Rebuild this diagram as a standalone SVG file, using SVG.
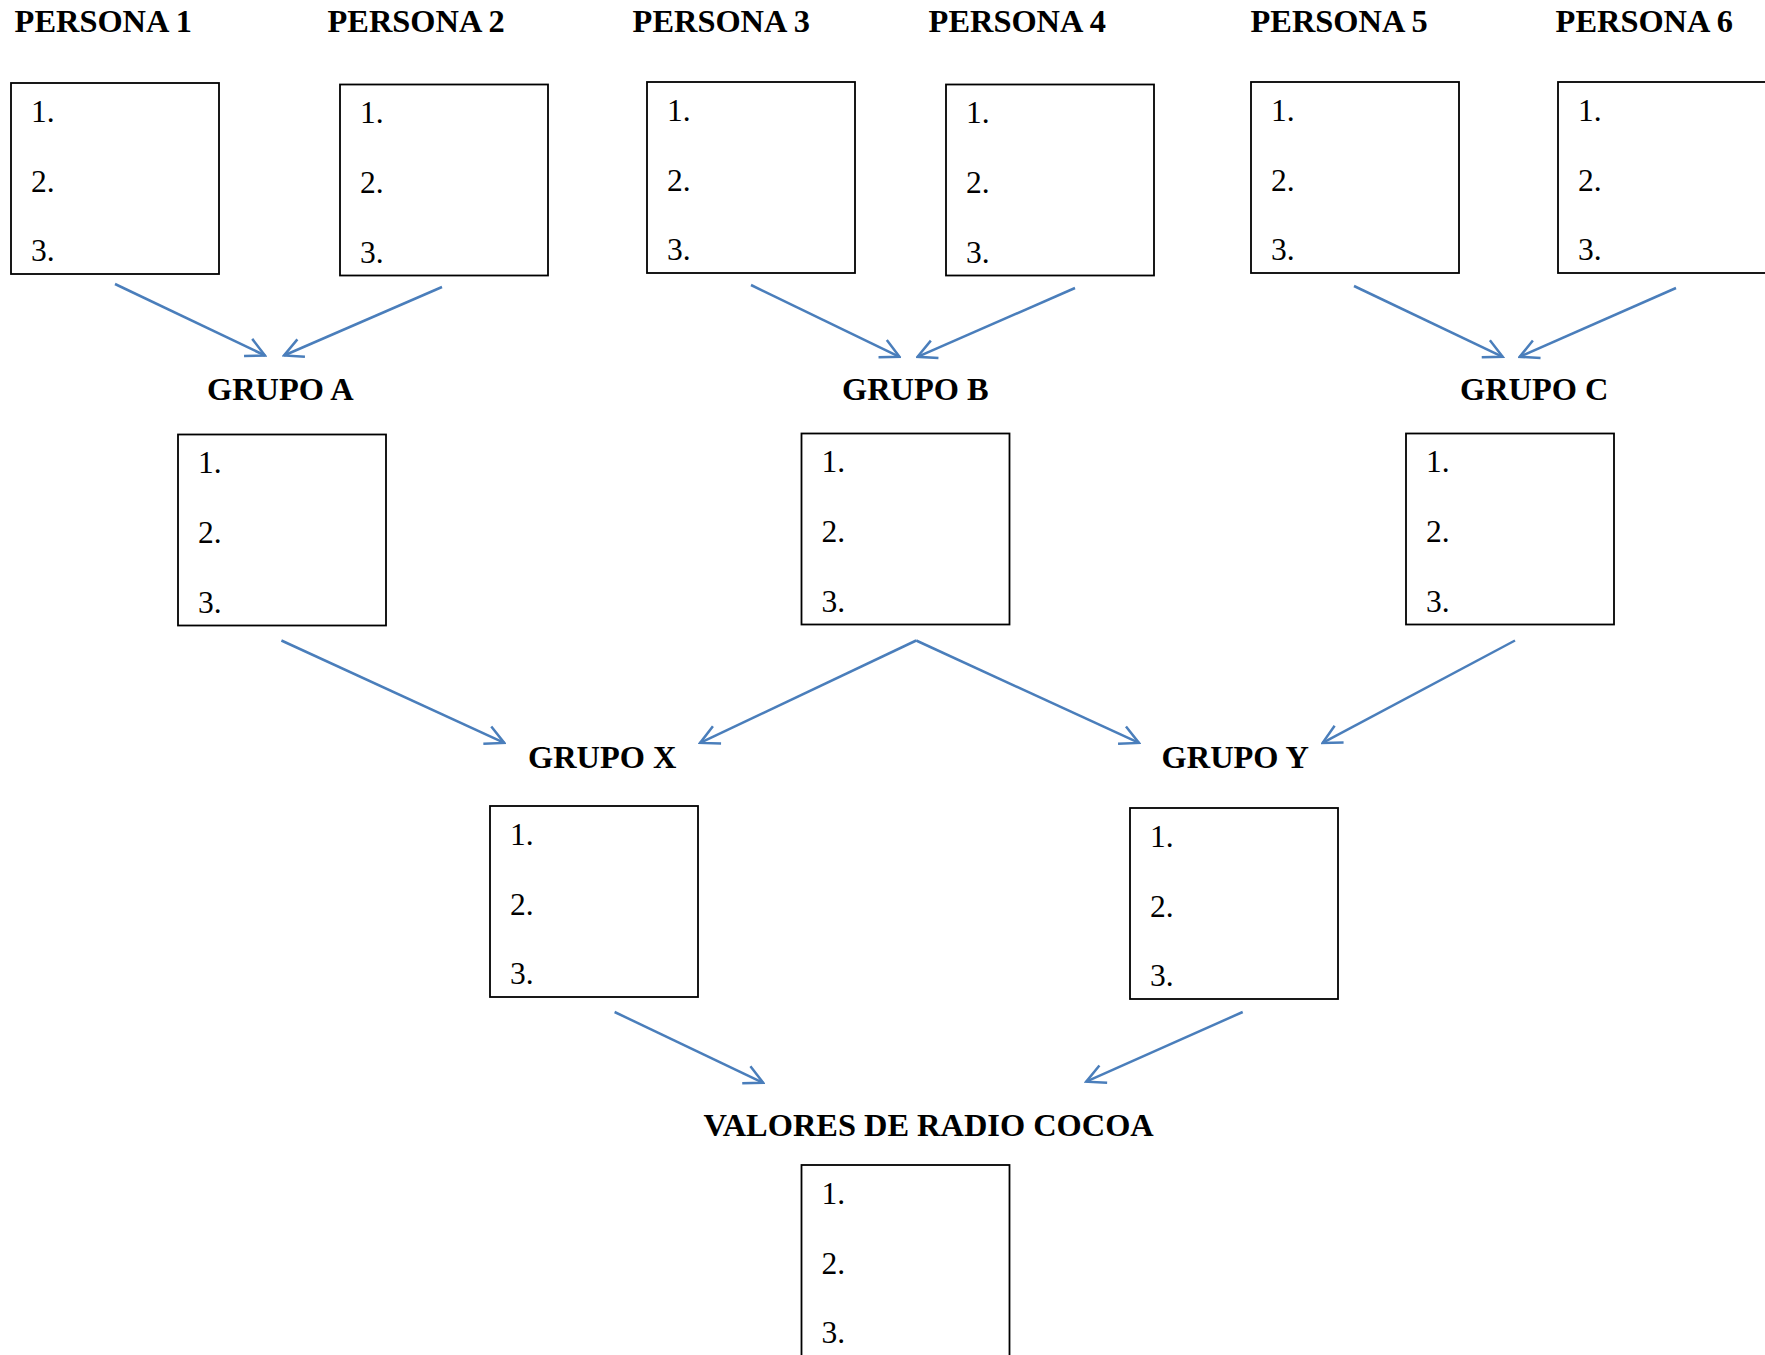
<svg xmlns="http://www.w3.org/2000/svg" width="1765" height="1355" viewBox="0 0 1765 1355">
<style>
.t{font-family:"Liberation Serif","Times New Roman",serif;font-weight:bold;font-size:32.4px;fill:#000}
.n{font-family:"Liberation Serif","Times New Roman",serif;font-size:31.5px;fill:#000}
.b{fill:#fff;stroke:#000;stroke-width:1.8}
.c{stroke:#4a7ebb;stroke-width:2.5;fill:none;marker-end:url(#ah)}
</style>
<defs>
<marker id="ah" viewBox="-22 -12 24 24" refX="0" refY="0" markerWidth="24" markerHeight="24" markerUnits="userSpaceOnUse" orient="auto">
<path d="M-18.7,-9.5 L0,0 L-18.7,9.5" fill="none" stroke="#4a7ebb" stroke-width="2.5"/>
</marker>
</defs>
<rect width="1765" height="1355" fill="#fff"/>
<g id="persona1"><text class="t" x="14.6" y="31.5">PERSONA 1</text><rect class="b" x="11" y="83" width="208" height="191"/><text class="n" x="31" y="121.5">1.</text><text class="n" x="31" y="191.7">2.</text><text class="n" x="31" y="261.4">3.</text></g>
<g id="persona2"><text class="t" x="327.5" y="31.5">PERSONA 2</text><rect class="b" x="340" y="84.5" width="208" height="191"/><text class="n" x="360" y="123">1.</text><text class="n" x="360" y="193.2">2.</text><text class="n" x="360" y="262.9">3.</text></g>
<g id="persona3"><text class="t" x="632.6" y="31.5">PERSONA 3</text><rect class="b" x="647" y="82" width="208" height="191"/><text class="n" x="667" y="120.5">1.</text><text class="n" x="667" y="190.7">2.</text><text class="n" x="667" y="260.4">3.</text></g>
<g id="persona4"><text class="t" x="928.6" y="31.5">PERSONA 4</text><rect class="b" x="946" y="84.5" width="208" height="191"/><text class="n" x="966" y="123">1.</text><text class="n" x="966" y="193.2">2.</text><text class="n" x="966" y="262.9">3.</text></g>
<g id="persona5"><text class="t" x="1250.5" y="31.5">PERSONA 5</text><rect class="b" x="1251" y="82" width="208" height="191"/><text class="n" x="1271" y="120.5">1.</text><text class="n" x="1271" y="190.7">2.</text><text class="n" x="1271" y="260.4">3.</text></g>
<g id="persona6"><text class="t" x="1555.6" y="31.5">PERSONA 6</text><rect class="b" x="1558" y="82" width="208" height="191"/><text class="n" x="1578" y="120.5">1.</text><text class="n" x="1578" y="190.7">2.</text><text class="n" x="1578" y="260.4">3.</text></g>
<g id="grupoA"><text class="t" x="207" y="399.5">GRUPO A</text><rect class="b" x="178" y="434.5" width="208" height="191"/><text class="n" x="198" y="473">1.</text><text class="n" x="198" y="543.2">2.</text><text class="n" x="198" y="612.9">3.</text></g>
<g id="grupoB"><text class="t" x="842" y="399.5">GRUPO B</text><rect class="b" x="801.5" y="433.5" width="208" height="191"/><text class="n" x="821.5" y="472">1.</text><text class="n" x="821.5" y="542.2">2.</text><text class="n" x="821.5" y="611.9">3.</text></g>
<g id="grupoC"><text class="t" x="1460" y="399.5">GRUPO C</text><rect class="b" x="1406" y="433.5" width="208" height="191"/><text class="n" x="1426" y="472">1.</text><text class="n" x="1426" y="542.2">2.</text><text class="n" x="1426" y="611.9">3.</text></g>
<g id="grupoX"><text class="t" x="528" y="768">GRUPO X</text><rect class="b" x="490" y="806" width="208" height="191"/><text class="n" x="510" y="844.5">1.</text><text class="n" x="510" y="914.7">2.</text><text class="n" x="510" y="984.4">3.</text></g>
<g id="grupoY"><text class="t" x="1161.6" y="768">GRUPO Y</text><rect class="b" x="1130" y="808" width="208" height="191"/><text class="n" x="1150" y="846.5">1.</text><text class="n" x="1150" y="916.7">2.</text><text class="n" x="1150" y="986.4">3.</text></g>
<g id="valores"><text class="t" x="703.5" y="1136">VALORES DE RADIO COCOA</text><rect class="b" x="801.5" y="1165" width="208" height="191"/><text class="n" x="821.5" y="1203.5">1.</text><text class="n" x="821.5" y="1273.7">2.</text><text class="n" x="821.5" y="1343.4">3.</text></g>
<g id="connectors">
<line class="c" x1="115" y1="284" x2="265" y2="355.5"/>
<line class="c" x1="442" y1="287" x2="284" y2="355.5"/>
<line class="c" x1="751" y1="285" x2="899.5" y2="356.8"/>
<line class="c" x1="1075" y1="288" x2="917.5" y2="356.8"/>
<line class="c" x1="1354" y1="286" x2="1502.7" y2="356.8"/>
<line class="c" x1="1676" y1="288" x2="1519.6" y2="356.8"/>
<line class="c" x1="281.4" y1="640.5" x2="504.3" y2="742.9"/>
<line class="c" x1="916.2" y1="640.5" x2="700.1" y2="742.9"/>
<line class="c" x1="916.2" y1="640.5" x2="1139" y2="742.9"/>
<line class="c" x1="1515" y1="640.5" x2="1322.6" y2="742.9"/>
<line class="c" x1="614.6" y1="1012" x2="763.2" y2="1082.8"/>
<line class="c" x1="1242.7" y1="1012" x2="1086.2" y2="1081.7"/>
</g>
</svg>
